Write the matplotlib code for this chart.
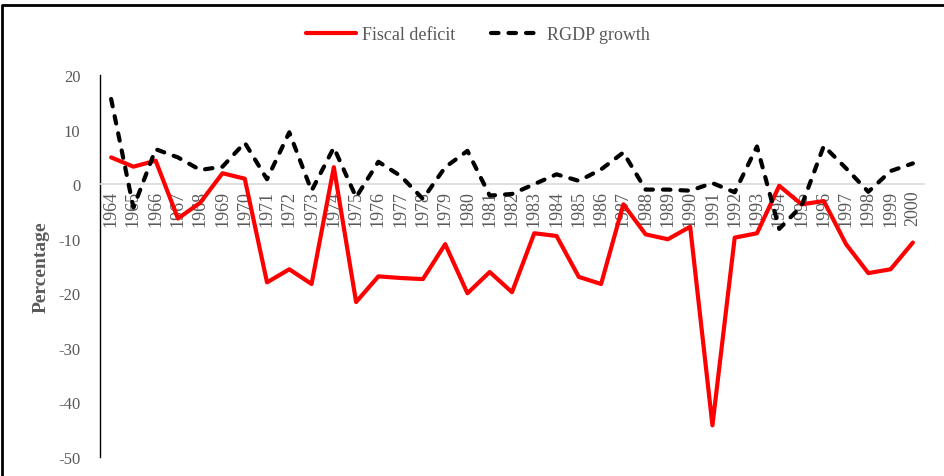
import matplotlib
matplotlib.use('Agg')
import matplotlib.pyplot as plt
from matplotlib.lines import Line2D

years = list(range(1964, 2001))
fiscal_deficit = [4.9, 3.2, 4.3, -6.3, -3.4, 2.0, 1.0, -18.0, -15.6, -18.3,
                  3.1, -21.6, -16.9, -17.2, -17.4, -11.0, -20.0, -16.1, -19.8, -9.0,
                  -9.5, -17.0, -18.3, -3.7, -9.2, -10.1, -7.8, -44.2, -9.8, -9.0,
                  -0.3, -3.7, -3.1, -11.0, -16.3, -15.6, -10.7]
rgdp_growth = [15.6, -4.3, 6.4, 4.9, 2.6, 3.2, 7.6, 0.9, 9.5, -1.2,
               6.7, -2.4, 4.1, 1.5, -2.7, 3.1, 6.1, -2.1, -1.8, 0.0,
               1.8, 0.6, 2.7, 5.8, -1.0, -1.0, -1.2, 0.2, -1.5, 6.9,
               -8.2, -4.0, 7.0, 2.9, -1.4, 2.4, 3.8]
yticks = [20, 10, 0, -10, -20, -30, -40, -50]

grey = '#595959'
plt.rcParams['font.family'] = ['Liberation Serif', 'DejaVu Serif']

fig = plt.figure(figsize=(9.45, 4.77), dpi=100)
ax = fig.add_axes([100/945, 1-458/477, 824/945, 382/477])
x = list(range(len(years)))
ax.plot(x, fiscal_deficit, color='#ff0000', lw=3, label='Fiscal deficit', solid_capstyle='round', zorder=3)
ax.plot(x, rgdp_growth, color='black', lw=3, ls=(0, (1.8, 2.4)), dash_capstyle='round', label='RGDP growth', zorder=3)

ax.set_xlim(-0.5, len(years) - 0.5)
ax.set_ylim(-50, 20)
ax.spines['bottom'].set_position(('data', 0))
ax.spines['bottom'].set_color('#d9d9d9')
ax.spines['bottom'].set_linewidth(1.2)
ax.spines['top'].set_visible(False)
ax.spines['right'].set_visible(False)
ax.spines['left'].set_color('black')
ax.spines['left'].set_linewidth(1)

ax.set_yticks(yticks)
ax.set_yticklabels([str(v) for v in yticks], color=grey, fontsize=12)
ax.set_xticks(x)
ax.set_xticklabels([str(y) for y in years], color=grey, fontsize=13)
ax.tick_params(axis='x', length=0, pad=4, labelrotation=90)
ax.tick_params(axis='y', length=0, pad=14)

ax.set_ylabel('Percentage', color=grey, fontsize=14, fontweight='bold')
ax.yaxis.set_label_coords(-50/824, 0.5)

fig.legend(loc='center', bbox_to_anchor=(478/945, 1-36/477), ncol=2, frameon=False,
           fontsize=13, labelcolor=grey, handlelength=2.8, columnspacing=2.0, handletextpad=0.3)

# outer frame: left and top edges only
fig.add_artist(Line2D([2.5/945, 2.5/945, 1.0], [0, 1-6/477, 1-6/477], transform=fig.transFigure,
                      color='black', lw=2))

fig.savefig('out.png', dpi=100)
